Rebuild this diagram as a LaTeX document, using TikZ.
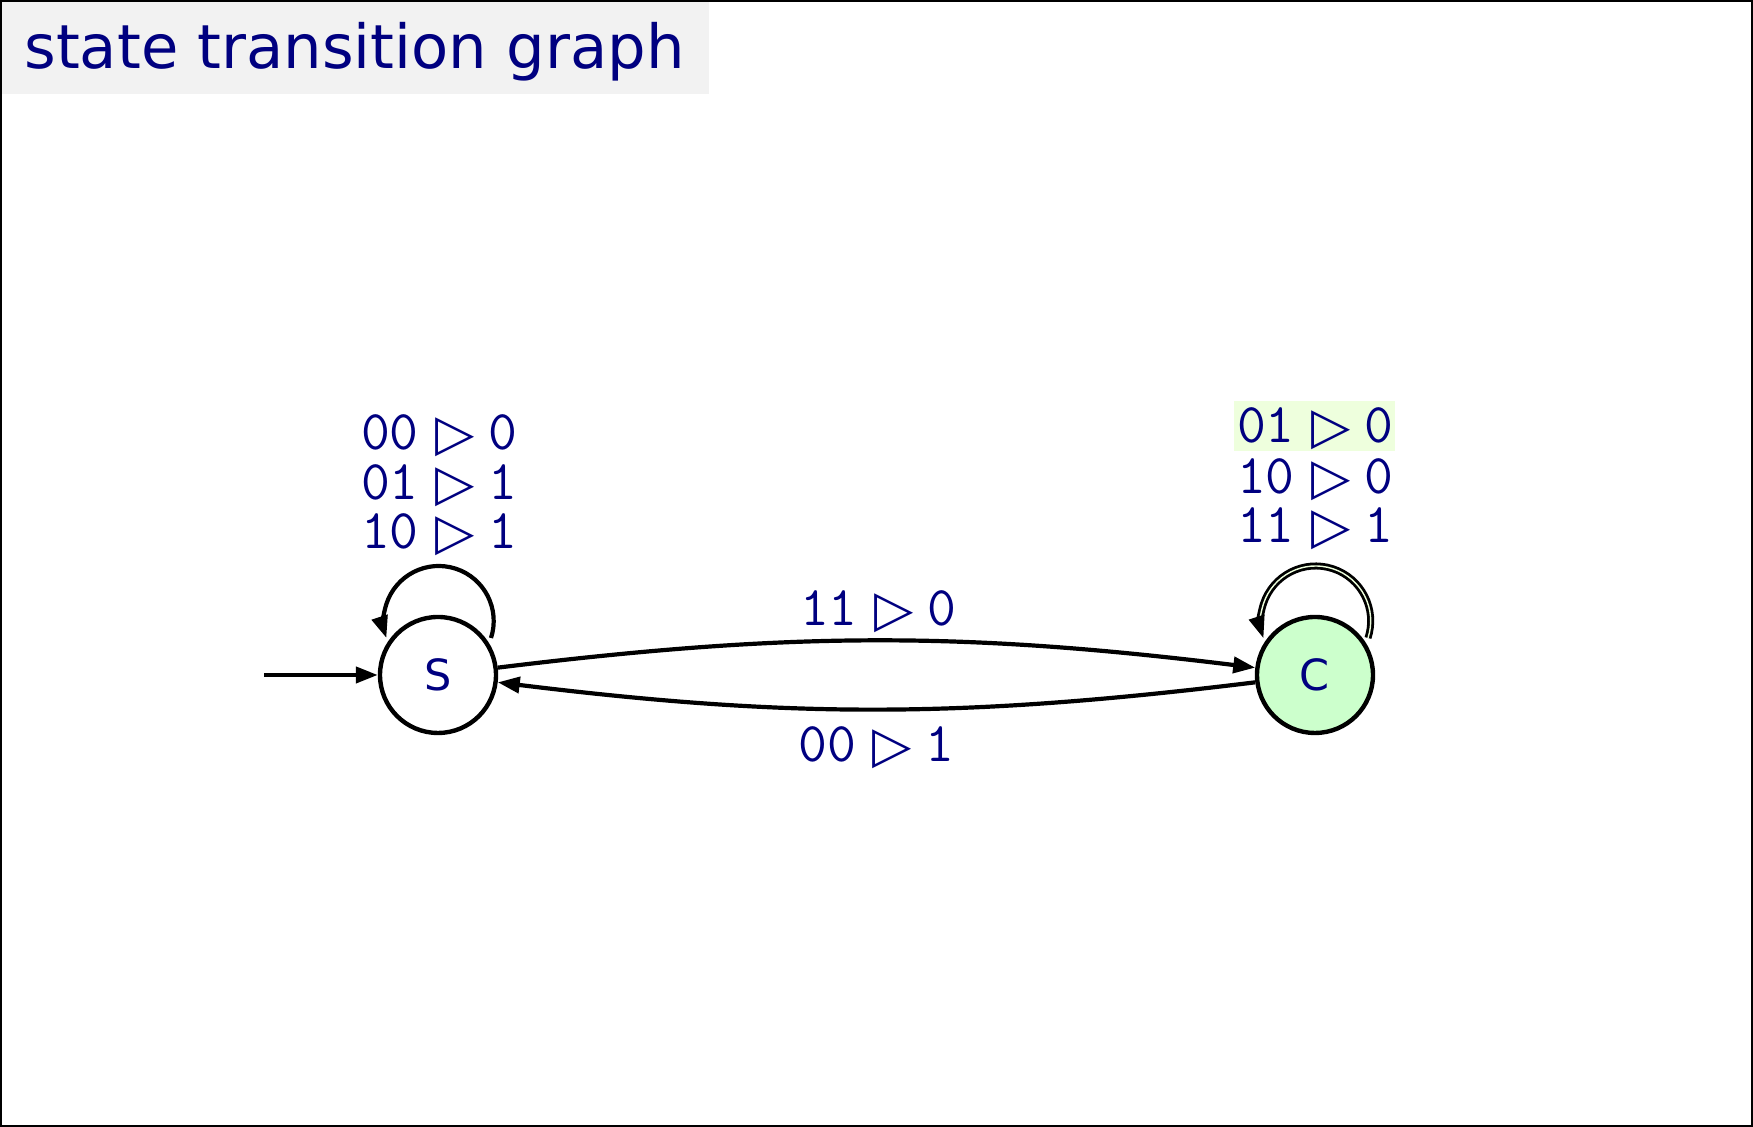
\documentclass[tikz,border=0pt]{standalone}
\usepackage{fontspec}
\newfontfamily\dejavu{DejaVu Sans}
\usetikzlibrary{arrows.meta,calc}
\definecolor{navy}{HTML}{000080}
\definecolor{titlegray}{HTML}{F2F2F2}
\definecolor{accgreen}{HTML}{CCFFCC}
\definecolor{hlgreen}{HTML}{EEFFDD}
\tikzset{
  statenode/.style={circle, draw, line width=2.2pt, minimum size=58pt, inner sep=0pt,
    text=navy, font=\dejavu\fontsize{21.5}{24}\selectfont},
  edge/.style={line width=2.1pt, -{Triangle[length=11pt,width=8pt]}},
  lbl/.style={text=navy, font=\fontsize{28}{30}\selectfont, inner sep=0pt,
    anchor=base, text height=18pt, text depth=4pt},
}
\newcommand{\trl}[2]{\texttt{#1}\hspace{0.3em}\raisebox{-0.5pt}{\dejavu\fontsize{25.5}{27}\selectfont ▷}\hspace{0.24em}\texttt{#2}}
\begin{document}
\begin{tikzpicture}[x=0.5pt,y=0.5pt]
\useasboundingbox (0,0) rectangle (1753,1127);
\draw[line width=1.2pt] (1.2,1.2) rectangle (1751.8,1125.8);
\fill[titlegray] (2.4,1124.6) rectangle (709,1033);
\node[anchor=base west, inner sep=0pt, text=navy, font=\dejavu\fontsize{30.4}{34}\selectfont] (title) at (24,1058) {state transition graph};

\node[statenode] (S) at (438,452) {S};
\node[statenode, fill=accgreen] (C) at (1315,452) {C};
\coordinate (init) at (264,452);
\coordinate (Sloop) at ($(S)+(53,37)$);
\coordinate (Cloop) at ($(C)+(53,37)$);

\draw[edge] (init) -- (S);
\draw[edge] (S) to[bend left=7] node[lbl, midway, yshift=7.75pt, xshift=0.8pt] (l11) {\trl{11}{0}} (C);
\draw[edge] (C) to[bend left=7] node[lbl, midway, yshift=-26.25pt] (l00) {\trl{00}{1}} (S);

\draw[edge] (Sloop) arc[start angle=-18, end angle=198, radius=27.5pt];
\draw[edge, line width=1.4pt, double=hlgreen, double distance=0.7pt] (Cloop) arc[start angle=-18, end angle=198, radius=27.5pt];

\node[lbl] (s1) at (439,677) {\trl{00}{0}};
\node[lbl] (s2) at (439,627) {\trl{01}{1}};
\node[lbl] (s3) at (439,578) {\trl{10}{1}};

\node[fill=hlgreen, minimum width=80.5pt, minimum height=25pt, inner sep=0pt] (hl) at (1314.5,701) {};
\node[lbl] (c1) at (1315,684) {\trl{01}{0}};
\node[lbl] (c2) at (1315,633) {\trl{10}{0}};
\node[lbl] (c3) at (1315,584) {\trl{11}{1}};
\end{tikzpicture}
\end{document}
